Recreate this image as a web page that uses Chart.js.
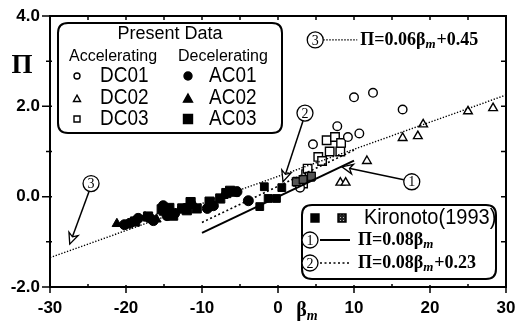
<!DOCTYPE html>
<html><head><meta charset="utf-8">
<script src="https://cdn.jsdelivr.net/npm/chart.js@4/dist/chart.umd.min.js"></script>
<style>html,body{margin:0;padding:0;background:#fff}#wrap{width:515px;height:323px}</style>
</head><body><div id="wrap"><canvas id="c" width="515" height="323"></canvas></div>
<script>
// ---- data ----
const dc01X=[2.9,4.6,7.8,9.2,10.7,10.0,12.5,16.4];
const dc01Y=[0.2,1.16,1.56,1.32,1.4,2.2,2.3,1.93];
const dc02X=[8.2,8.9,11.7,16.4,18.4,19.1,25.0,28.3];
const dc02Y=[0.31,0.31,0.79,1.3,1.34,1.6,1.89,1.96];
const dc03X=[2.6,3.3,3.7,3.9,4.2,5.3,5.8,6.4,6.8,7.5,8.2,8.3];
const dc03Y=[0.33,0.29,0.5,0.62,0.44,0.88,0.79,1.25,1.0,1.32,1.0,1.19];
const ac01X=[-20.2,-19.5,-18.4,-16.9,-16.4,-15.1,-14.6,-13.6,-12.2,-9.3,-8.5,-5.4,-3.9];
const ac01Y=[-0.62,-0.59,-0.48,-0.47,-0.53,-0.2,-0.42,-0.37,-0.26,-0.26,-0.2,0.11,-0.09];
const ac02X=[-21.2,-19.0,-17.5,-16.0,-15.0,-13.0,-11.0,-7.2];
const ac02Y=[-0.6,-0.55,-0.45,-0.5,-0.35,-0.3,-0.2,0.02];
const ac03X=[-18.8,-17.1,-15.3,-14.3,-13.8,-12.6,-12.0,-11.5,-10.7,-9.0,-7.6,-6.8,-6.3,-5.7];
const ac03Y=[-0.55,-0.44,-0.28,-0.25,-0.42,-0.26,-0.3,-0.12,-0.26,-0.11,-0.04,0.08,0.13,0.11];
const kiroAX=[-2.4,-1.3,-0.2,-1.8,0.5];
const kiroAY=[-0.22,-0.04,-0.04,0.22,0.2];
const kiroBX=[2.4,3.3,4.4];
const kiroBY=[0.33,0.38,0.45];
// fit lines (endpoints of the printed equations)
const line1X=[-10,10], line1Y=[-0.8,0.8];
const line2X=[-10,10], line2Y=[-0.57,1.03];
const line3X=[-30,30], line3Y=[-1.35,2.25];
const xTicks=[-30,-20,-10,0,10,20,30];
const yTicks=[-2,0,2,4];

const pts=(xs,ys)=>xs.map((x,i)=>({x:x,y:ys[i]}));

// dotted pattern for the second Kironoto marker
const pc=document.createElement('canvas');pc.width=3;pc.height=3;
const pcx=pc.getContext('2d');pcx.fillStyle='#222';pcx.fillRect(0,0,3,3);pcx.fillStyle='#bbb';pcx.fillRect(1,1,1,1);

const SANS='"Liberation Sans", Arial, sans-serif';
const SERIF='"Liberation Serif", "Times New Roman", serif';

function txt(ctx,s,x,y,font,align,sx,sy){ctx.save();ctx.font=font;ctx.fillStyle='#000';ctx.textAlign=align||'left';ctx.textBaseline='middle';ctx.translate(x,y);ctx.scale(sx||1,sy||1);ctx.fillText(s,0,0);ctx.restore();}
function formula(ctx,x,y,size,pre,post){
  ctx.save();ctx.fillStyle='#000';ctx.textBaseline='middle';ctx.textAlign='left';
  ctx.font='bold '+size+'px '+SERIF;ctx.fillText(pre,x,y);let w=ctx.measureText(pre).width;
  ctx.font='bold italic '+Math.round(size*0.72)+'px '+SERIF;ctx.fillText('m',x+w,y+size*0.25);w+=ctx.measureText('m').width;
  if(post){ctx.font='bold '+size+'px '+SERIF;ctx.fillText(post,x+w+1,y);}
  ctx.restore();
}
function circNum(ctx,x,y,n){ctx.save();ctx.lineWidth=1.3;ctx.strokeStyle='#000';ctx.fillStyle='#fff';ctx.beginPath();ctx.arc(x,y,8,0,Math.PI*2);ctx.fill();ctx.stroke();ctx.restore();txt(ctx,n,x,y+1,'14px '+SERIF,'center');}
function arrow(ctx,x1,y1,x2,y2){
  ctx.save();ctx.strokeStyle='#000';ctx.lineWidth=1.5;ctx.beginPath();ctx.moveTo(x1,y1);ctx.lineTo(x2,y2);ctx.stroke();
  const a=Math.atan2(y2-y1,x2-x1),L=12,h=0.42;
  const p1=[x2-L*Math.cos(a-h),y2-L*Math.sin(a-h)],p2=[x2-L*Math.cos(a+h),y2-L*Math.sin(a+h)];
  const pm=[x2-L*0.65*Math.cos(a),y2-L*0.65*Math.sin(a)];
  ctx.fillStyle='#fff';ctx.lineWidth=1.3;ctx.beginPath();ctx.moveTo(x2,y2);ctx.lineTo(p1[0],p1[1]);ctx.lineTo(pm[0],pm[1]);ctx.lineTo(p2[0],p2[1]);ctx.closePath();ctx.fill();ctx.stroke();ctx.restore();
}
function marker(ctx,type,x,y,r,fill){
  ctx.save();ctx.strokeStyle='#000';ctx.lineWidth=1.4;ctx.fillStyle=fill;ctx.beginPath();
  if(type==='c'){ctx.arc(x,y,r,0,Math.PI*2);}
  else if(type==='t'){ctx.moveTo(x,y-r*1.1);ctx.lineTo(x+r,y+r*0.7);ctx.lineTo(x-r,y+r*0.7);ctx.closePath();}
  else {ctx.rect(x-r,y-r,2*r,2*r);}
  ctx.fill();ctx.stroke();ctx.restore();
}
function rrect(ctx,x,y,w,h,r){ctx.beginPath();ctx.moveTo(x+r,y);ctx.lineTo(x+w-r,y);ctx.quadraticCurveTo(x+w,y,x+w,y+r);ctx.lineTo(x+w,y+h-r);ctx.quadraticCurveTo(x+w,y+h,x+w-r,y+h);ctx.lineTo(x+r,y+h);ctx.quadraticCurveTo(x,y+h,x,y+h-r);ctx.lineTo(x,y+r);ctx.quadraticCurveTo(x,y,x+r,y);ctx.closePath();}

const deco={id:'deco',
 afterDraw(chart){
  const ctx=chart.ctx,a=chart.chartArea,xs=chart.scales.x,ys=chart.scales.y;
  ctx.save();ctx.strokeStyle='#000';
  // frame
  ctx.lineWidth=2;ctx.strokeRect(a.left,a.top,a.right-a.left,a.bottom-a.top);
  ctx.lineWidth=1.5;ctx.beginPath();
  for(let v=-30;v<=30;v+=5){const px=xs.getPixelForValue(v);
    if(v%10===0){ctx.moveTo(px,a.bottom-2);ctx.lineTo(px,a.bottom+6);} else {ctx.moveTo(px,a.bottom);ctx.lineTo(px,a.bottom-3);}
    ctx.moveTo(px,a.top);ctx.lineTo(px,a.top+4);}
  for(let v=-2;v<=4;v+=1){const py=ys.getPixelForValue(v);
    if(v%2===0){ctx.moveTo(a.left-8,py);ctx.lineTo(a.left+2,py);} else {ctx.moveTo(a.left-4,py);ctx.lineTo(a.left+2,py);}
    ctx.moveTo(a.right,py);ctx.lineTo(a.right-5,py);}
  ctx.stroke();ctx.restore();
  // axis titles
  txt(ctx,'\u03A0',22,66,'bold 27px '+SERIF,'center');
  formula(ctx,xs.getPixelForValue(2.4),311,20,'\u03B2','');
  // top annotation (3)
  const P=(x,y)=>[xs.getPixelForValue(x),ys.getPixelForValue(y)];
  let c=P(4.9,3.47);
  ctx.save();ctx.setLineDash([1.5,1.5]);ctx.lineWidth=1.2;ctx.beginPath();ctx.moveTo(c[0]+8,c[1]);ctx.lineTo(c[0]+42,c[1]);ctx.stroke();ctx.restore();
  circNum(ctx,c[0],c[1],'3');
  formula(ctx,c[0]+45,c[1],18,'\u03A0=0.06\u03B2','+0.45');
  // left arrow (3)
  c=P(-24.6,0.29);let t=P(-27.4,-1.05);arrow(ctx,c[0]-2,c[1]+8,t[0],t[1]);circNum(ctx,c[0],c[1],'3');
  // arrow (2)
  c=P(3.55,1.85);t=P(0.66,0.33);arrow(ctx,c[0]-2,c[1]+8,t[0],t[1]);circNum(ctx,c[0],c[1],'2');
  // arrow (1)
  c=P(17.6,0.33);t=P(8.4,0.66);arrow(ctx,c[0]-8,c[1]-2,t[0],t[1]);circNum(ctx,c[0],c[1],'1');
  // top-left legend
  ctx.save();ctx.lineWidth=2;ctx.strokeStyle='#000';ctx.fillStyle='#fff';rrect(ctx,58,23,224,110,10);ctx.fill();ctx.stroke();ctx.restore();
  txt(ctx,'Present Data',170,34,'18px '+SANS,'center');
  txt(ctx,'Accelerating',69,57,'16px '+SANS,'left');
  txt(ctx,'Decelerating',178,57,'16px '+SANS,'left');
  const rows=[76,98,119];
  marker(ctx,'c',77,rows[0],3,'#fff');marker(ctx,'t',77,rows[1]+1,3.5,'#fff');marker(ctx,'s',77,rows[2],3,'#fff');
  marker(ctx,'c',188,rows[0],4,'#000');marker(ctx,'t',188,rows[1]+1,4.5,'#000');marker(ctx,'s',188,rows[2],4.5,'#000');
  ['DC01','DC02','DC03'].forEach((s,i)=>txt(ctx,s,100,rows[i],'19px '+SANS,'left',1,1.15));
  ['AC01','AC02','AC03'].forEach((s,i)=>txt(ctx,s,209,rows[i],'19px '+SANS,'left',1,1.15));
  // bottom-right legend
  ctx.save();ctx.lineWidth=2;ctx.strokeStyle='#000';ctx.fillStyle='#fff';rrect(ctx,302,205,194,74,10);ctx.fill();ctx.stroke();ctx.restore();
  marker(ctx,'s',315,218,4,'#000');
  ctx.save();ctx.fillStyle=ctx.createPattern(pc,'repeat');ctx.strokeStyle='#000';ctx.lineWidth=1.4;ctx.beginPath();ctx.rect(338,214,8,8);ctx.fill();ctx.stroke();ctx.restore();
  txt(ctx,'Kironoto(1993)',364,218,'20px '+SANS,'left',1,1.1);
  circNum(ctx,310,240,'1');
  ctx.save();ctx.lineWidth=2;ctx.beginPath();ctx.moveTo(320,240);ctx.lineTo(350,240);ctx.stroke();ctx.restore();
  formula(ctx,358,240,18,'\u03A0=0.08\u03B2','');
  circNum(ctx,310,263,'2');
  ctx.save();ctx.lineWidth=1.5;ctx.setLineDash([2,2.5]);ctx.beginPath();ctx.moveTo(320,263);ctx.lineTo(350,263);ctx.stroke();ctx.restore();
  formula(ctx,358,263,18,'\u03A0=0.08\u03B2','+0.23');
 }};

const open={backgroundColor:'#fff',borderColor:'#000',borderWidth:1.4};
const solid={backgroundColor:'#000',borderColor:'#000',borderWidth:1};
new Chart(document.getElementById('c').getContext('2d'),{
 type:'scatter',
 data:{datasets:[
  {label:'line3',type:'line',data:pts(line3X,line3Y),showLine:true,pointRadius:0,borderColor:'#000',borderWidth:1.4,borderDash:[1.3,1.7],fill:false},
  {label:'line2',type:'line',data:pts(line2X,line2Y),showLine:true,pointRadius:0,borderColor:'#000',borderWidth:1.6,borderDash:[2,2.5],fill:false},
  {label:'line1',type:'line',data:pts(line1X,line1Y),showLine:true,pointRadius:0,borderColor:'#000',borderWidth:2,fill:false},
  {label:'AC01',data:pts(ac01X,ac01Y),pointStyle:'circle',pointRadius:5,...solid},
  {label:'AC02',data:pts(ac02X,ac02Y),pointStyle:'triangle',pointRadius:5.5,...solid},
  {label:'AC03',data:pts(ac03X,ac03Y),pointStyle:'rect',pointRadius:6.5,...solid},
  {label:'Kironoto A',data:pts(kiroAX,kiroAY),pointStyle:'rect',pointRadius:5.5,...solid},
  {label:'Kironoto B',data:pts(kiroBX,kiroBY),pointStyle:'rect',pointRadius:5.5,backgroundColor:'#555',borderColor:'#000',borderWidth:1.2},
  {label:'DC01',data:pts(dc01X,dc01Y),pointStyle:'circle',pointRadius:4.3,...open},
  {label:'DC02',data:pts(dc02X,dc02Y),pointStyle:'triangle',pointRadius:5,...open},
  {label:'DC03',data:pts(dc03X,dc03Y),pointStyle:'rect',pointRadius:6,...open}
 ]},
 options:{
  responsive:false,animation:false,events:[],
  layout:{padding:{top:16,right:9,left:0,bottom:0}},
  plugins:{legend:{display:false},tooltip:{enabled:false}},
  scales:{
   x:{type:'linear',min:-30,max:30,
      ticks:{stepSize:10,autoSkip:false,maxRotation:0,color:'#000',padding:11,font:{family:SANS,size:17,weight:'bold'},callback:v=>xTicks.includes(v)?String(v):''},
      grid:{display:true,drawOnChartArea:false,drawTicks:false},border:{display:false},
      afterFit:s=>{s.height=36;s.paddingLeft=0;s.paddingRight=0;}},
   y:{type:'linear',min:-2,max:4,
      ticks:{stepSize:2,autoSkip:false,color:'#000',padding:10,font:{family:SANS,size:17,weight:'bold'},callback:v=>yTicks.includes(v)?v.toFixed(1):''},
      grid:{display:true,drawOnChartArea:false,drawTicks:false},border:{display:false},
      afterFit:s=>{s.width=50;s.paddingTop=0;s.paddingBottom=0;}}
  }
 },
 plugins:[deco]
});
</script></body></html>
